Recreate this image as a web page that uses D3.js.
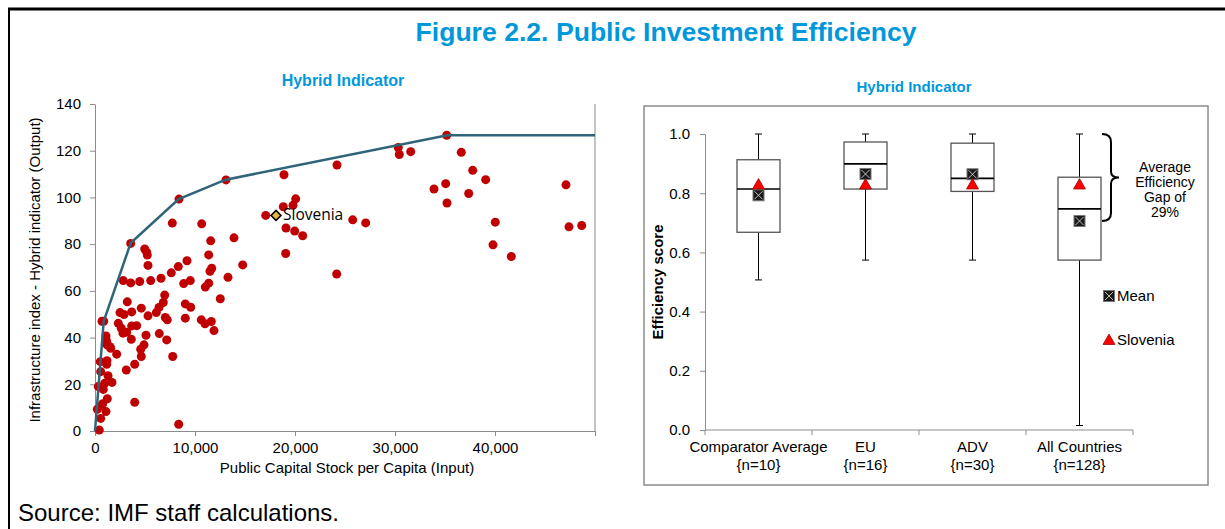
<!DOCTYPE html>
<html>
<head>
<meta charset="utf-8">
<script src="https://cdn.jsdelivr.net/npm/d3@7"></script>
<style>
  body { margin: 0; background: #fff; }
  svg { font-family: "Liberation Sans", Arial, sans-serif; }
  .axis path, .axis line { stroke: #8c8c8c; }
  .axis text { fill: #000; font-size: 15px; }
</style>
</head>
<body>
<div class="chart"></div>
<script>
// Public Investment Efficiency - scatter with frontier + box plots

// left panel data: public capital stock per capita (x), hybrid indicator (y)
var scatterPoints = [
  [870, 47], [3570, 80.3], [8400, 99.3], [13100, 107.5], [18900, 109.7], [24200, 113.9],
  [30330, 121.4], [30430, 118.4], [31570, 119.6], [35170, 126.6], [36630, 119.3], [37770, 111.6],
  [39070, 107.6], [33900, 103.6], [35070, 105.9], [37370, 101.7], [35200, 97.6], [47100, 105.4],
  [40030, 89.4], [47400, 87.4], [48670, 88], [39800, 79.7], [41630, 74.7], [25770, 90.4],
  [27070, 89.1], [24170, 67.2], [20070, 99.4], [18830, 96], [19800, 96.6], [17070, 92.3],
  [19100, 86.9], [19970, 85.6], [20770, 83.6], [19070, 76], [7730, 89], [10670, 88.7],
  [11570, 81.4], [13900, 82.7], [9200, 72.9], [11370, 75.4], [8330, 70.4], [11670, 69.7],
  [14770, 71.1], [4970, 77.9], [5170, 76.6], [5230, 75.3], [5300, 70.9], [7630, 67.7],
  [6600, 65.4], [5570, 64.4], [4470, 64], [3570, 63.4], [2830, 64.4], [8870, 63.1],
  [9530, 64.4], [11500, 68.4], [13300, 65.8], [11030, 61.6], [11370, 63.3], [12530, 56.6],
  [6970, 58.2], [6830, 55], [6400, 52.9], [6130, 50.7], [4630, 52.6], [3230, 55.3],
  [3670, 51], [2500, 50.7], [2900, 49.9], [5300, 49.3], [9030, 54.4], [9570, 53],
  [9030, 48.3], [7030, 48.6], [7230, 47.6], [10630, 47.6], [11000, 45.9], [11630, 46.9],
  [11900, 43], [2330, 46.1], [2630, 44], [2800, 41.9], [3670, 45], [4170, 45.1],
  [5100, 41], [6430, 41.7], [7170, 39], [3630, 39.3], [1100, 40.7], [3170, 42.3],
  [1200, 36.9], [1570, 35.4], [2170, 32.9], [4570, 35], [4900, 36.9], [4630, 31.9],
  [3970, 28.6], [3130, 26.1], [7770, 31.9], [530, 29.7], [1200, 30.1], [1170, 28.6],
  [570, 25.4], [1300, 23.7], [1700, 20.8], [970, 20.4], [830, 17.8], [1230, 13.8],
  [770, 11.7], [230, 9.3], [1100, 8.3], [630, 10.7], [570, 5.4], [430, 0.4],
  [3970, 12.3], [8370, 2.9], [1170, 38.3], [1500, 36.1], [330, 19], [700, 47]
];
var frontierPoints = [[0, 0], [870, 47], [3570, 80.5], [8370, 99.3], [13070, 107.6], [35230, 126.6], [50000, 126.6]];
var sloveniaPoint = [18100, 92.3];
var xTicksLeft = [0, 10000, 20000, 30000, 40000, 50000];
var yTicksLeft = [0, 20, 40, 60, 80, 100, 120, 140];

// right panel data: efficiency score box plots
var groups = ["Comparator Average", "EU", "ADV", "All Countries"];
var groupCounts = ["{n=10}", "{n=16}", "{n=30}", "{n=128}"];
var boxMin = [0.507, 0.574, 0.574, 0.015];
var boxQ1 = [0.668, 0.814, 0.806, 0.574];
var boxMedian = [0.814, 0.899, 0.85, 0.747];
var boxQ3 = [0.913, 0.973, 0.969, 0.854];
var boxMax = [1, 1, 1, 1];
var groupMean = [0.793, 0.865, 0.864, 0.706];
var sloveniaScore = [0.826, 0.826, 0.826, 0.826];
var yTicksRight = [0, 0.2, 0.4, 0.6, 0.8, 1.0];

var svg = d3.select(".chart").append("svg")
  .attr("width", 1225)
  .attr("height", 529);

// outer frame (top + left)
svg.append("line").attr("x1", 8).attr("x2", 1225).attr("y1", 9).attr("y2", 9)
  .attr("stroke", "#000").attr("stroke-width", 3);
svg.append("line").attr("x1", 9).attr("x2", 9).attr("y1", 8).attr("y2", 529)
  .attr("stroke", "#000").attr("stroke-width", 2);

svg.append("text")
  .attr("x", 666).attr("y", 41)
  .attr("text-anchor", "middle")
  .attr("font-size", "26.6px").attr("font-weight", "bold")
  .attr("fill", "#0098da")
  .text("Figure 2.2. Public Investment Efficiency");

svg.append("text")
  .attr("x", 18).attr("y", 521)
  .attr("font-size", "24px").attr("fill", "#000")
  .text("Source: IMF staff calculations.");

// ---------- left panel ----------
var xLeft = d3.scaleLinear().domain([0, 50000]).range([95, 595]);
var yLeft = d3.scaleLinear().domain([0, 140]).range([431, 104]);

svg.append("text")
  .attr("x", 343).attr("y", 86)
  .attr("text-anchor", "middle")
  .attr("font-size", "16px").attr("font-weight", "bold")
  .attr("fill", "#0098da")
  .text("Hybrid Indicator");

svg.append("g").attr("class", "axis")
  .attr("transform", "translate(95,0)")
  .call(d3.axisLeft(yLeft).tickValues(yTicksLeft).tickSize(5).tickSizeOuter(0).tickPadding(9));

svg.append("g").attr("class", "axis")
  .attr("transform", "translate(0,431)")
  .call(d3.axisBottom(xLeft).tickValues(xTicksLeft).tickSize(5).tickSizeOuter(0).tickPadding(6)
    .tickFormat(function(d) { return d === 50000 ? "" : d3.format(",")(d); }));

// right border of plot area
svg.append("line")
  .attr("x1", xLeft(50000)).attr("x2", xLeft(50000))
  .attr("y1", yLeft(140)).attr("y2", yLeft(0))
  .attr("stroke", "#b0b0b0").attr("stroke-width", 1.5);

svg.append("text")
  .attr("x", 347).attr("y", 473)
  .attr("text-anchor", "middle")
  .attr("font-size", "15px")
  .text("Public Capital Stock per Capita (Input)");

svg.append("text")
  .attr("transform", "translate(40,270) rotate(-90)")
  .attr("text-anchor", "middle")
  .attr("font-size", "15px")
  .text("Infrastructure index - Hybrid indicator (Output)");

svg.append("g").selectAll("circle")
  .data(scatterPoints)
  .enter().append("circle")
  .attr("cx", function(d) { return xLeft(d[0]); })
  .attr("cy", function(d) { return yLeft(d[1]); })
  .attr("r", 4.5)
  .attr("fill", "#c00000");

var frontier = d3.line()
  .x(function(d) { return xLeft(d[0]); })
  .y(function(d) { return yLeft(d[1]); });

svg.append("path")
  .datum(frontierPoints)
  .attr("d", frontier)
  .attr("fill", "none")
  .attr("stroke", "#2f6479")
  .attr("stroke-width", 2.5);

// Slovenia: square turned 45 degrees
svg.append("path")
  .attr("transform", "translate(" + xLeft(sloveniaPoint[0]) + "," + yLeft(sloveniaPoint[1]) + ") rotate(45)")
  .attr("d", d3.symbol().type(d3.symbolSquare).size(50))
  .attr("fill", "#e6b54a")
  .attr("stroke", "#000")
  .attr("stroke-width", 1.5);

svg.append("text")
  .attr("x", xLeft(sloveniaPoint[0]) + 7).attr("y", yLeft(sloveniaPoint[1]) + 5)
  .attr("font-family", "'Open Sans', sans-serif")
  .attr("font-size", "15.5px")
  .text("Slovenia");

// ---------- right panel ----------
svg.append("rect")
  .attr("x", 644).attr("y", 106)
  .attr("width", 564).attr("height", 379)
  .attr("fill", "none")
  .attr("stroke", "#8c8c8c").attr("stroke-width", 1.5);

svg.append("text")
  .attr("x", 914).attr("y", 92)
  .attr("text-anchor", "middle")
  .attr("font-size", "15px").attr("font-weight", "bold")
  .attr("fill", "#0098da")
  .text("Hybrid Indicator");

var xRight = d3.scaleBand().domain(groups).range([705, 1133]);
var yRight = d3.scaleLinear().domain([0, 1]).range([430, 134]);

svg.append("g").attr("class", "axis")
  .attr("transform", "translate(705,0)")
  .call(d3.axisLeft(yRight).tickValues(yTicksRight).tickSize(5).tickSizeOuter(0).tickPadding(10)
    .tickFormat(d3.format(".1f")));

var xAxisRight = svg.append("g").attr("class", "axis")
  .attr("transform", "translate(0,430)");
xAxisRight.append("line")
  .attr("x1", 705).attr("x2", 1133)
  .attr("stroke", "#8c8c8c");
xAxisRight.selectAll(".sep")
  .data(groups.concat(["end"]))
  .enter().append("line")
  .attr("x1", function(d, i) { return 705 + i * xRight.bandwidth(); })
  .attr("x2", function(d, i) { return 705 + i * xRight.bandwidth(); })
  .attr("y1", 0).attr("y2", 5)
  .attr("stroke", "#8c8c8c");

var cx = function(i) { return xRight(groups[i]) + xRight.bandwidth() / 2; };

groups.forEach(function(g, i) {
  svg.append("text")
    .attr("x", cx(i)).attr("y", 452)
    .attr("text-anchor", "middle").attr("font-size", "15px")
    .text(g);
  svg.append("text")
    .attr("x", cx(i)).attr("y", 470)
    .attr("text-anchor", "middle").attr("font-size", "15px")
    .text(groupCounts[i]);
});

svg.append("text")
  .attr("transform", "translate(663,282) rotate(-90)")
  .attr("text-anchor", "middle")
  .attr("font-size", "15px").attr("font-weight", "bold")
  .text("Efficiency score");

var boxW = 43;
var boxes = svg.append("g");
groups.forEach(function(g, i) {
  var c = cx(i);
  // whiskers
  boxes.append("line").attr("x1", c).attr("x2", c)
    .attr("y1", yRight(boxMax[i])).attr("y2", yRight(boxQ3[i]))
    .attr("stroke", "#000");
  boxes.append("line").attr("x1", c).attr("x2", c)
    .attr("y1", yRight(boxQ1[i])).attr("y2", yRight(boxMin[i]))
    .attr("stroke", "#000");
  boxes.append("line").attr("x1", c - 3.5).attr("x2", c + 3.5)
    .attr("y1", yRight(boxMax[i])).attr("y2", yRight(boxMax[i]))
    .attr("stroke", "#000");
  boxes.append("line").attr("x1", c - 3.5).attr("x2", c + 3.5)
    .attr("y1", yRight(boxMin[i])).attr("y2", yRight(boxMin[i]))
    .attr("stroke", "#000");
  boxes.append("rect")
    .attr("x", c - boxW / 2).attr("y", yRight(boxQ3[i]))
    .attr("width", boxW).attr("height", yRight(boxQ1[i]) - yRight(boxQ3[i]))
    .attr("fill", "#fff").attr("stroke", "#555").attr("stroke-width", 1.3);
  boxes.append("line").attr("x1", c - boxW / 2).attr("x2", c + boxW / 2)
    .attr("y1", yRight(boxMedian[i])).attr("y2", yRight(boxMedian[i]))
    .attr("stroke", "#000").attr("stroke-width", 1.6);
});

function meanMarker(sel, x, y) {
  var s = 5.5;
  sel.append("rect").attr("x", x - s).attr("y", y - s).attr("width", 2 * s).attr("height", 2 * s)
    .attr("fill", "#1a1a1a").attr("stroke", "#777").attr("stroke-width", 1);
  sel.append("line").attr("x1", x - s + 1.5).attr("x2", x + s - 1.5).attr("y1", y - s + 1.5).attr("y2", y + s - 1.5)
    .attr("stroke", "#cfcfcf").attr("stroke-width", 0.9);
  sel.append("line").attr("x1", x - s + 1.5).attr("x2", x + s - 1.5).attr("y1", y + s - 1.5).attr("y2", y - s + 1.5)
    .attr("stroke", "#cfcfcf").attr("stroke-width", 0.9);
}
function triMarker(sel, x, y) {
  sel.append("path")
    .attr("transform", "translate(" + x + "," + y + ")")
    .attr("d", d3.symbol().type(d3.symbolTriangle).size(62))
    .attr("fill", "#ff0000").attr("stroke", "#a00000").attr("stroke-width", 0.8);
}

groups.forEach(function(g, i) {
  meanMarker(boxes, cx(i), yRight(groupMean[i]));
  triMarker(boxes, cx(i), yRight(sloveniaScore[i]));
});

// brace for efficiency gap (max to mean of all countries)
var bTop = yRight(boxMax[3]), bBot = yRight(groupMean[3]), bMid = (bTop + bBot) / 2;
var bx = 1102, bw = 9;
svg.append("path")
  .attr("d", "M" + bx + "," + bTop +
    " Q" + (bx + bw) + "," + bTop + " " + (bx + bw) + "," + (bTop + 8) +
    " L" + (bx + bw) + "," + (bMid - 6) +
    " Q" + (bx + bw) + "," + bMid + " " + (bx + bw + 8) + "," + bMid +
    " Q" + (bx + bw) + "," + bMid + " " + (bx + bw) + "," + (bMid + 6) +
    " L" + (bx + bw) + "," + (bBot - 8) +
    " Q" + (bx + bw) + "," + bBot + " " + bx + "," + bBot)
  .attr("fill", "none").attr("stroke", "#000").attr("stroke-width", 2);

["Average", "Efficiency", "Gap of", "29%"].forEach(function(t, i) {
  svg.append("text")
    .attr("x", 1165).attr("y", 172 + i * 15)
    .attr("text-anchor", "middle").attr("font-size", "14px")
    .text(t);
});

// legend
meanMarker(svg, 1109, 296);
svg.append("text").attr("x", 1117).attr("y", 301).attr("font-size", "15px").text("Mean");
triMarker(svg, 1109, 341);
svg.append("text").attr("x", 1117).attr("y", 345).attr("font-size", "15px").text("Slovenia");
</script>
</body>
</html>
